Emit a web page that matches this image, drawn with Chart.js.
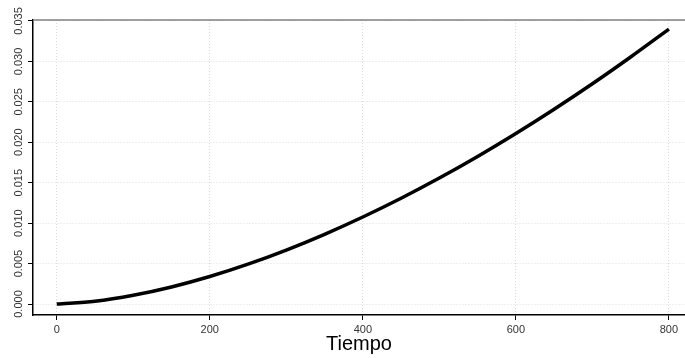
<!DOCTYPE html>
<html>
<head>
<meta charset="utf-8">
<script src="https://cdn.jsdelivr.net/npm/chart.js@4"></script>
<style>
  html, body { margin: 0; padding: 0; background: #fff; }
  #wrap { width: 685px; height: 358px; position: relative; }
</style>
</head>
<body>
<div id="wrap"><canvas id="chart"></canvas></div>
<script>
// --- datos ---
const tiempo = [0, 50, 100, 150, 200, 250, 300, 350, 400, 450, 500, 550, 600, 650, 700, 750, 800];
const valores = [0, 0.00034, 0.00108, 0.00211, 0.0034, 0.00493, 0.00667, 0.00862, 0.01076,
                 0.01308, 0.01558, 0.01825, 0.02109, 0.02409, 0.02724, 0.03055, 0.034];
const xTicks = [0, 200, 400, 600, 800];
const yTicks = [0, 0.005, 0.01, 0.015, 0.02, 0.025, 0.03, 0.035];

const fontFamily = '"Liberation Sans", Arial, sans-serif';

// línea gris del borde superior
const topBorder = {
  id: 'topBorder',
  afterDraw(chart) {
    const { ctx, chartArea } = chart;
    ctx.save();
    ctx.strokeStyle = '#808080';
    ctx.lineWidth = 1.5;
    ctx.beginPath();
    ctx.moveTo(chartArea.left, chartArea.top);
    ctx.lineTo(chartArea.right, chartArea.top);
    ctx.stroke();
    ctx.restore();
  }
};

const ctx = document.getElementById('chart').getContext('2d');
new Chart(ctx, {
  type: 'line',
  data: {
    datasets: [{
      data: tiempo.map((t, i) => ({ x: t, y: valores[i] })),
      borderColor: '#000',
      borderWidth: 3.5,
      pointRadius: 0,
      cubicInterpolationMode: 'monotone',
      fill: false
    }]
  },
  options: {
    responsive: true,
    maintainAspectRatio: false,
    animation: false,
    layout: { padding: { top: 20, right: 0, left: 0, bottom: 0 } },
    plugins: {
      legend: { display: false },
      tooltip: { enabled: false }
    },
    scales: {
      x: {
        type: 'linear',
        min: -31,
        max: 821,
        afterBuildTicks: (scale) => { scale.ticks = xTicks.map(v => ({ value: v })); },
        afterFit: (scale) => { scale.height = 43; },
        ticks: {
          color: '#333',
          font: { family: fontFamily, size: 11 },
          padding: 3,
          maxRotation: 0,
          callback: (v) => String(v)
        },
        grid: {
          color: '#dcdcdc',
          lineWidth: 1,
          tickLength: 5,
          tickColor: '#000',
          tickWidth: 1
        },
        border: { display: true, color: '#000', width: 1.5, dash: [1, 2] },
        title: {
          display: true,
          text: 'Tiempo',
          color: '#000',
          font: { family: fontFamily, size: 20, lineHeight: 1.2 },
          padding: { top: 0, bottom: 2 }
        }
      },
      y: {
        type: 'linear',
        min: -0.00136,
        max: 0.03512,
        afterBuildTicks: (scale) => { scale.ticks = yTicks.map(v => ({ value: v })); },
        afterFit: (scale) => { scale.width = 33; },
        ticks: {
          color: '#333',
          font: { family: fontFamily, size: 11 },
          minRotation: 90,
          maxRotation: 90,
          crossAlign: 'center',
          padding: -5,
          callback: (v) => Number(v).toFixed(3)
        },
        grid: {
          color: '#dcdcdc',
          lineWidth: 1,
          tickLength: 5,
          tickColor: '#000',
          tickWidth: 1
        },
        border: { display: true, color: '#000', width: 1.5, dash: [1, 2] }
      }
    }
  },
  plugins: [topBorder]
});
</script>
</body>
</html>
